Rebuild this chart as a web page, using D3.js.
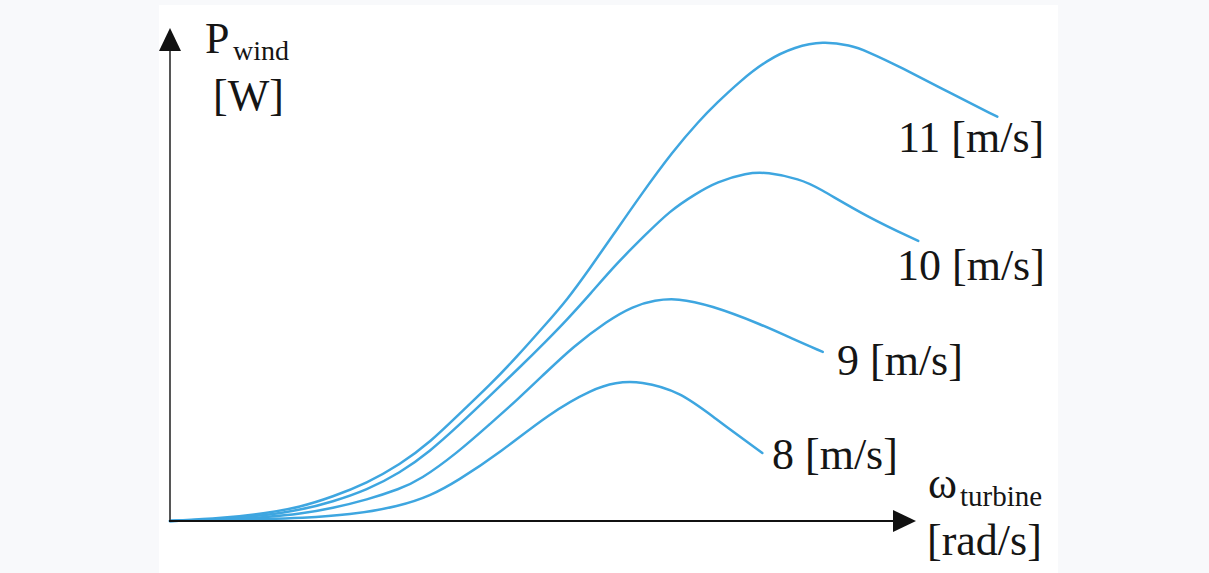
<!DOCTYPE html>
<html>
<head>
<meta charset="utf-8">
<script src="https://cdn.jsdelivr.net/npm/d3@7/dist/d3.min.js"></script>
<style>
  html, body { margin: 0; padding: 0; background: #f8f9fb; }
  #chart { width: 1209px; height: 573px; }
  text { font-family: "Liberation Serif", "Times New Roman", serif; fill: #151515; }
</style>
</head>
<body>
<div id="chart"></div>
<script>
// Wind speeds (one curve each)
var speeds = ['11', '10', '9', '8'];

// Turbine speed / power (arbitrary units, 0..100 = axis length)
var omega11 = [0, 7.1, 13.0, 17.4, 21.8, 26.4, 30.8, 34.9, 38.9, 42.9, 46.5, 50.3, 53.2, 56.3, 59.4, 63.0, 67.4, 71.0, 73.3, 76.4, 80.0, 83.8, 87.5, 91.2, 93.4, 97.9, 104.6, 110.9];
var power11 = [0, 0.6, 1.6, 2.8, 4.9, 7.7, 11.4, 16.0, 21.9, 27.6, 33.3, 39.8, 44.8, 51.3, 58.0, 65.9, 75.0, 81.3, 84.8, 89.2, 93.5, 96.2, 97.3, 96.5, 95.3, 92.1, 86.8, 82.0];

var omega10 = [0, 7.1, 13.0, 17.4, 21.8, 26.4, 30.8, 34.9, 38.5, 42.9, 46.9, 50.3, 53.2, 56.3, 59.9, 63.7, 67.0, 70.4, 73.3, 77.3, 80.0, 84.5, 86.7, 93.4, 100.3];
var power10 = [0, 0.4, 1.2, 2.2, 3.9, 6.3, 9.7, 14.2, 19.1, 25.4, 31.2, 36.3, 40.8, 46.0, 52.3, 58.0, 62.9, 66.3, 68.8, 70.6, 70.8, 69.3, 67.8, 61.7, 56.8];

var omega9 = [0, 7.1, 13.0, 17.4, 21.8, 26.4, 30.8, 33.5, 38.5, 42.9, 46.5, 50.3, 54.0, 58.6, 62.1, 65.0, 68.0, 72.4, 79.1, 83.5, 87.5];
var power9 = [0, 0.2, 0.8, 1.4, 2.6, 4.3, 6.5, 8.3, 13.8, 19.7, 24.5, 30.0, 35.3, 40.6, 43.6, 44.8, 45.2, 43.8, 40.0, 36.9, 34.3];

var omega8 = [0, 7.1, 13.0, 17.4, 24.1, 30.8, 34.9, 38.5, 44.2, 50.9, 56.7, 59.7, 63.0, 68.4, 72.8, 79.4];
var power8 = [0, 0.2, 0.4, 0.6, 1.2, 3.0, 5.1, 8.1, 13.8, 21.9, 26.8, 28.1, 28.4, 26.2, 21.1, 13.8];

(function(d3) {
    'use strict';

    var width = 1209;
    var height = 573;

    // Plot origin and axis ends (pixels)
    var x0 = 170, x1 = 916;
    var y0 = 521, y1 = 28;

    var x = d3.scaleLinear().domain([0, 100]).range([x0, x1]);
    var y = d3.scaleLinear().domain([0, 100]).range([y0, y1]);

    var svg = d3.select('#chart')
        .append('svg')
        .attr('width', width)
        .attr('height', height);

    // White panel
    svg.append('rect')
        .attr('x', 159)
        .attr('y', 5)
        .attr('width', 899)
        .attr('height', height - 5)
        .attr('fill', '#ffffff');

    // Build series table
    var series = [
        { label: speeds[0], om: omega11, p: power11, tx: 898, ty: 152 },
        { label: speeds[1], om: omega10, p: power10, tx: 897, ty: 280 },
        { label: speeds[2], om: omega9, p: power9, tx: 837, ty: 375 },
        { label: speeds[3], om: omega8, p: power8, tx: 772, ty: 469 }
    ];

    // basis spline smooths out the hand-drawn wobble
    var line = d3.line()
        .x(function(d) { return x(d[0]); })
        .y(function(d) { return y(d[1]); })
        .curve(d3.curveBasis);

    svg.selectAll('path.curve')
        .data(series)
        .enter()
        .append('path')
        .attr('class', 'curve')
        .attr('fill', 'none')
        .attr('stroke', '#3ea6e0')
        .attr('stroke-width', 2.5)
        .attr('stroke-linecap', 'round')
        .attr('d', function(s) {
            return line(s.om.map(function(v, i) { return [v, s.p[i]]; }));
        });

    // Axes with arrow heads
    svg.append('line')
        .attr('x1', x0).attr('y1', y0 + 1)
        .attr('x2', x0).attr('y2', y1 + 18)
        .attr('stroke', '#444').attr('stroke-width', 1.8);
    svg.append('path')
        .attr('d', 'M' + x0 + ',' + y1 + 'L' + (x0 - 11) + ',' + (y1 + 23) + 'L' + (x0 + 11) + ',' + (y1 + 23) + 'Z')
        .attr('fill', '#111');

    svg.append('line')
        .attr('x1', x0 - 1).attr('y1', y0)
        .attr('x2', x1 - 18).attr('y2', y0)
        .attr('stroke', '#111').attr('stroke-width', 2);
    svg.append('path')
        .attr('d', 'M' + x1 + ',' + y0 + 'L' + (x1 - 23) + ',' + (y0 - 11) + 'L' + (x1 - 23) + ',' + (y0 + 11) + 'Z')
        .attr('fill', '#111');

    // Curve labels
    svg.selectAll('text.speed')
        .data(series)
        .enter()
        .append('text')
        .attr('class', 'speed')
        .attr('x', function(s) { return s.tx; })
        .attr('y', function(s) { return s.ty; })
        .attr('font-size', 44)
        .text(function(s) { return s.label + ' [m/s]'; });

    // Y axis title
    var yt = svg.append('text').attr('x', 205).attr('y', 53).attr('font-size', 44);
    yt.append('tspan').text('P');
    yt.append('tspan').attr('x', 233).attr('y', 60).attr('font-size', 28).text('wind');
    svg.append('text').attr('x', 213).attr('y', 110).attr('font-size', 44).text('[W]');

    // X axis title
    var xt = svg.append('text').attr('x', 928).attr('y', 498).attr('font-size', 44);
    xt.append('tspan').text('\u03c9');
    xt.append('tspan').attr('x', 960).attr('y', 506).attr('font-size', 29).text('turbine');
    svg.append('text').attr('x', 927).attr('y', 555).attr('font-size', 44).text('[rad/s]');

})(window.d3);
</script>
</body>
</html>
